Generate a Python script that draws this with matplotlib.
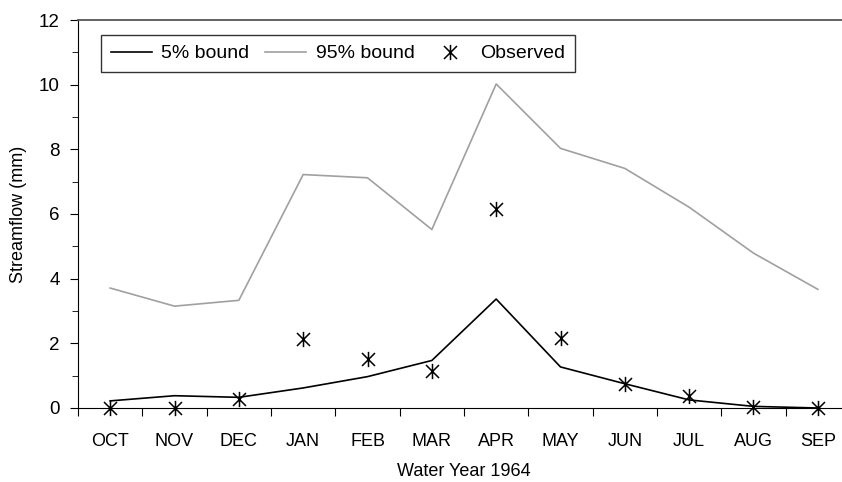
import numpy as np
import matplotlib
matplotlib.use("Agg")
import matplotlib.pyplot as plt
from matplotlib.path import Path
from matplotlib.ticker import MultipleLocator, FixedLocator, NullFormatter

months = ["OCT", "NOV", "DEC", "JAN", "FEB", "MAR", "APR", "MAY", "JUN", "JUL", "AUG", "SEP"]
lower5 = [0.22, 0.38, 0.33, 0.62, 0.97, 1.47, 3.37, 1.27, 0.75, 0.25, 0.05, 0.0]
upper95 = [3.71, 3.15, 3.33, 7.22, 7.12, 5.52, 10.02, 8.03, 7.41, 6.21, 4.79, 3.67]
observed = [0.0, 0.0, 0.28, 2.13, 1.51, 1.13, 6.14, 2.18, 0.74, 0.38, 0.02, 0.0]

plt.rcParams['font.family'] = ['Liberation Sans', 'DejaVu Sans']

# asterisk: vertical bar plus an X
star = Path([(0, -1), (0, 1), (-0.85, -0.85), (0.85, 0.85), (-0.85, 0.85), (0.85, -0.85)],
            [Path.MOVETO, Path.LINETO, Path.MOVETO, Path.LINETO, Path.MOVETO, Path.LINETO])

fig = plt.figure(figsize=(8.42, 4.82), dpi=100)
# axis runs off the right edge like in the original cut-out
ax = fig.add_axes([78 / 842, 1 - 408 / 482, 772 / 842, 388 / 482])

x = np.arange(len(months))
ax.plot(x, lower5, color="black", lw=1.2, label="5% bound")
ax.plot(x, upper95, color="#a0a0a0", lw=1.2, label="95% bound")
ax.plot(x, observed, ls="none", marker=star, ms=11, mew=1.1,
        color="black", label="Observed", clip_on=False, zorder=5)

ax.set_xlim(-0.5, len(months) - 0.5)
ax.set_ylim(0, 12)
ax.yaxis.set_major_locator(MultipleLocator(2))
ax.yaxis.set_minor_locator(MultipleLocator(1))
ax.xaxis.set_major_locator(FixedLocator(np.arange(-0.5, len(months), 1)))
ax.xaxis.set_major_formatter(NullFormatter())
ax.xaxis.set_minor_locator(FixedLocator(x))
ax.set_xticklabels(months, minor=True)
ax.tick_params(axis="x", which="minor", length=0, pad=18, labelsize=13)
ax.tick_params(axis="x", which="major", direction="out", length=6)
ax.tick_params(axis="y", which="both", direction="out", labelsize=13.5, pad=7)
ax.tick_params(axis="y", which="major", length=6)
ax.tick_params(axis="y", which="minor", length=4)

ax.spines["right"].set_visible(False)
ax.spines["top"].set_color("#555555")
ax.spines["top"].set_linewidth(1.3)

ax.set_xlabel("Water Year 1964", fontsize=13, labelpad=9)
ax.set_ylabel("Streamflow (mm)", fontsize=13, labelpad=9)

leg = ax.legend(loc="upper left", ncol=3, frameon=True, fancybox=False,
                edgecolor="black", fontsize=14, handlelength=2.1,
                bbox_to_anchor=(23 / 772, 1 - 15 / 388), borderaxespad=0,
                borderpad=0.5, columnspacing=0.8, handletextpad=0.5)
leg.get_frame().set_linewidth(1.0)

fig.savefig("out.png", dpi=100)
